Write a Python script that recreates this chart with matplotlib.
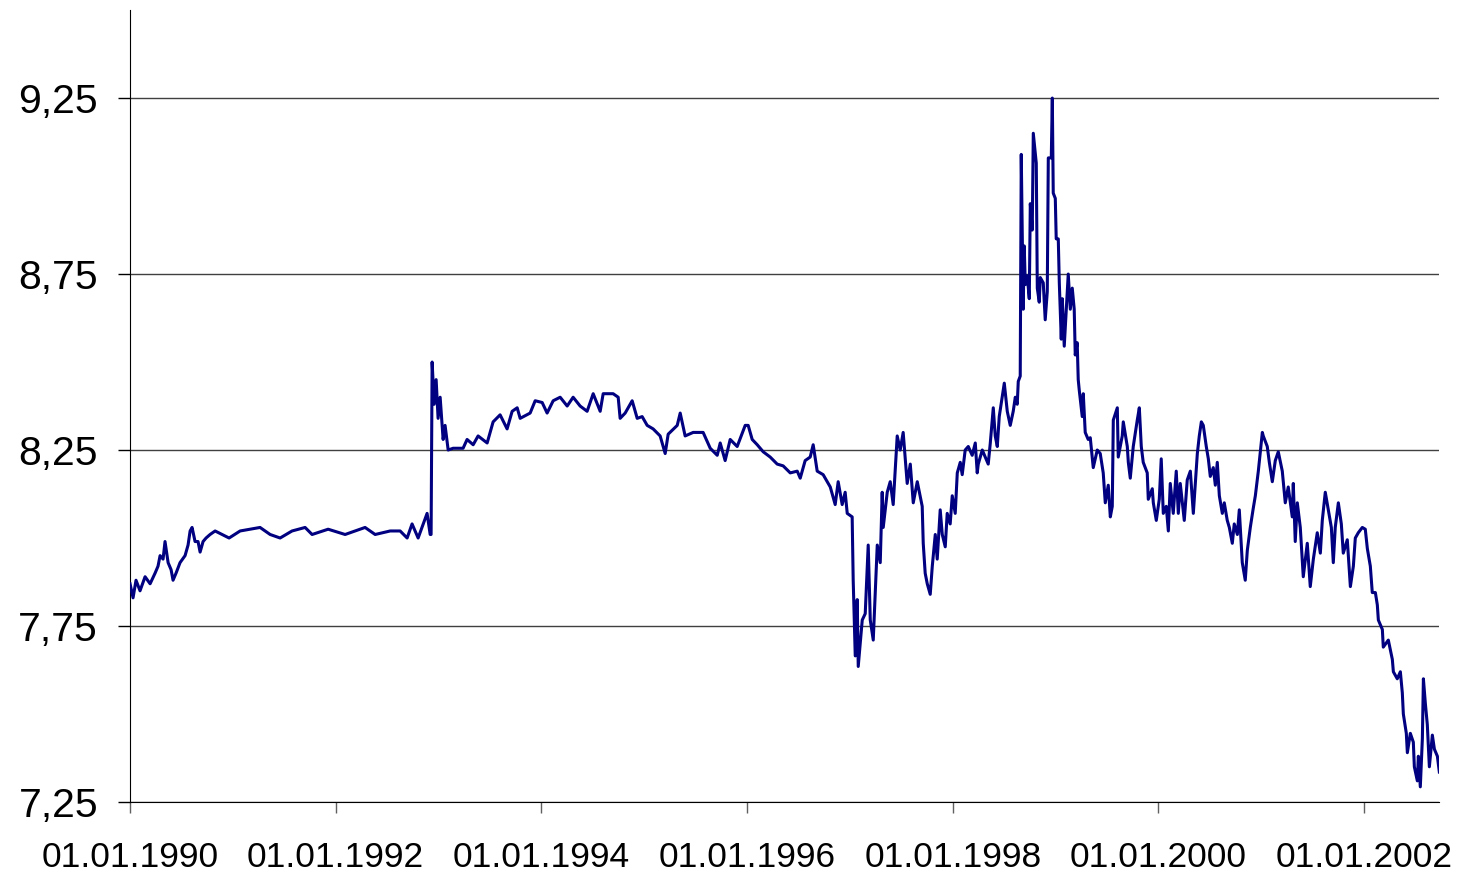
import numpy as np
import pandas as pd
import matplotlib
matplotlib.use("Agg")
import matplotlib.pyplot as plt
import matplotlib.dates as mdates

# time in decimal years
t_years = [
    1990.000, 1990.029, 1990.058, 1990.097, 1990.146, 1990.195, 1990.243, 1990.272,
    1990.292, 1990.321, 1990.340, 1990.370, 1990.399, 1990.418, 1990.447, 1990.486,
    1990.535, 1990.564, 1990.584, 1990.603, 1990.632, 1990.661, 1990.681, 1990.710,
    1990.739, 1990.778, 1990.827, 1990.963, 1991.070, 1991.264, 1991.362, 1991.459,
    1991.575, 1991.702, 1991.770, 1991.926, 1992.091, 1992.285, 1992.383, 1992.529,
    1992.626, 1992.694, 1992.742, 1992.801, 1992.888, 1992.918, 1992.927, 1992.937,
    1992.957, 1992.976, 1992.995, 1993.015, 1993.044, 1993.063, 1993.093, 1993.141,
    1993.238, 1993.277, 1993.336, 1993.384, 1993.472, 1993.501, 1993.530, 1993.598,
    1993.666, 1993.715, 1993.764, 1993.793, 1993.890, 1993.939, 1994.007, 1994.055,
    1994.114, 1994.182, 1994.250, 1994.308, 1994.376, 1994.444, 1994.503, 1994.571,
    1994.600, 1994.697, 1994.746, 1994.765, 1994.814, 1994.882, 1994.931, 1994.979,
    1995.028, 1995.086, 1995.154, 1995.203, 1995.232, 1995.320, 1995.349, 1995.397,
    1995.475, 1995.572, 1995.641, 1995.709, 1995.738, 1995.786, 1995.835, 1995.903,
    1995.981, 1996.010, 1996.049, 1996.098, 1996.156, 1996.224, 1996.292, 1996.350,
    1996.419, 1996.487, 1996.516, 1996.564, 1996.613, 1996.642, 1996.681, 1996.739,
    1996.808, 1996.856, 1996.885, 1996.924, 1996.953, 1996.973, 1997.021, 1997.031,
    1997.051, 1997.070, 1997.080, 1997.119, 1997.148, 1997.177, 1997.197, 1997.226,
    1997.265, 1997.294, 1997.313, 1997.323, 1997.362, 1997.391, 1997.420, 1997.459,
    1997.488, 1997.517, 1997.556, 1997.586, 1997.615, 1997.654, 1997.702, 1997.712,
    1997.731, 1997.751, 1997.780, 1997.800, 1997.829, 1997.848, 1997.877, 1997.897,
    1997.926, 1997.945, 1997.974, 1997.994, 1998.023, 1998.043, 1998.072, 1998.091,
    1998.120, 1998.150, 1998.188, 1998.218, 1998.237, 1998.247, 1998.286, 1998.315,
    1998.344, 1998.364, 1998.393, 1998.412, 1998.432, 1998.451, 1998.480, 1998.500,
    1998.529, 1998.558, 1998.587, 1998.607, 1998.626, 1998.636, 1998.655, 1998.665,
    1998.675, 1998.684, 1998.694, 1998.704, 1998.723, 1998.743, 1998.753, 1998.772,
    1998.782, 1998.811, 1998.821, 1998.840, 1998.850, 1998.879, 1998.898, 1998.918,
    1998.928, 1998.957, 1998.967, 1998.976, 1998.996, 1999.005, 1999.025, 1999.035,
    1999.054, 1999.064, 1999.083, 1999.103, 1999.122, 1999.142, 1999.161, 1999.180,
    1999.190, 1999.209, 1999.219, 1999.229, 1999.258, 1999.268, 1999.287, 1999.316,
    1999.336, 1999.365, 1999.404, 1999.433, 1999.462, 1999.482, 1999.511, 1999.531,
    1999.550, 1999.560, 1999.599, 1999.608, 1999.647, 1999.657, 1999.696, 1999.706,
    1999.725, 1999.754, 1999.793, 1999.813, 1999.832, 1999.851, 1999.890, 1999.900,
    1999.939, 1999.949, 1999.978, 2000.007, 2000.026, 2000.046, 2000.075, 2000.095,
    2000.114, 2000.143, 2000.172, 2000.192, 2000.211, 2000.250, 2000.279, 2000.309,
    2000.338, 2000.377, 2000.396, 2000.416, 2000.435, 2000.464, 2000.484, 2000.503,
    2000.532, 2000.552, 2000.571, 2000.591, 2000.620, 2000.639, 2000.668, 2000.688,
    2000.717, 2000.736, 2000.766, 2000.785, 2000.814, 2000.843, 2000.863, 2000.892,
    2000.921, 2000.941, 2000.970, 2001.009, 2001.018, 2001.057, 2001.077, 2001.106,
    2001.135, 2001.164, 2001.203, 2001.232, 2001.261, 2001.300, 2001.310, 2001.329,
    2001.349, 2001.378, 2001.397, 2001.407, 2001.446, 2001.475, 2001.505, 2001.543,
    2001.573, 2001.592, 2001.621, 2001.650, 2001.680, 2001.699, 2001.718, 2001.748,
    2001.777, 2001.796, 2001.835, 2001.865, 2001.894, 2001.913, 2001.942, 2001.981,
    2002.010, 2002.030, 2002.059, 2002.078, 2002.108, 2002.127, 2002.137, 2002.176,
    2002.185, 2002.234, 2002.273, 2002.283, 2002.321, 2002.351, 2002.370, 2002.380,
    2002.409, 2002.419, 2002.448, 2002.477, 2002.487, 2002.516, 2002.526, 2002.545,
    2002.565, 2002.575, 2002.594, 2002.613, 2002.633, 2002.662, 2002.682, 2002.711,
    2002.730,
]

rate = [
    7.87, 7.83, 7.88, 7.85, 7.89, 7.87, 7.90, 7.92,
    7.95, 7.94, 7.99, 7.93, 7.91, 7.88, 7.90, 7.93,
    7.95, 7.98, 8.02, 8.03, 7.99, 7.99, 7.96, 7.99,
    8.00, 8.01, 8.02, 8.00, 8.02, 8.03, 8.01, 8.00,
    8.02, 8.03, 8.01, 8.025, 8.01, 8.03, 8.01, 8.02,
    8.02, 8.00, 8.04, 8.00, 8.07, 8.01, 8.01, 8.50,
    8.38, 8.45, 8.34, 8.40, 8.28, 8.32, 8.25, 8.255,
    8.255, 8.28, 8.265, 8.29, 8.27, 8.30, 8.33, 8.35,
    8.31, 8.36, 8.37, 8.34, 8.355, 8.39, 8.385, 8.355,
    8.39, 8.40, 8.375, 8.40, 8.375, 8.36, 8.41, 8.36,
    8.41, 8.41, 8.40, 8.34, 8.355, 8.39, 8.34, 8.345,
    8.32, 8.31, 8.29, 8.24, 8.295, 8.32, 8.355, 8.29,
    8.30, 8.30, 8.255, 8.235, 8.27, 8.22, 8.28, 8.26,
    8.32, 8.32, 8.28, 8.265, 8.245, 8.23, 8.21, 8.205,
    8.185, 8.19, 8.17, 8.22, 8.23, 8.265, 8.19, 8.18,
    8.145, 8.095, 8.16, 8.095, 8.13, 8.07, 8.06, 7.88,
    7.665, 7.825, 7.635, 7.767, 7.785, 7.98, 7.767, 7.71,
    7.98, 7.93, 8.13, 8.03, 8.13, 8.16, 8.095, 8.29,
    8.25, 8.30, 8.155, 8.21, 8.10, 8.16, 8.09, 7.985,
    7.90, 7.87, 7.84, 7.92, 8.01, 7.94, 8.08, 8.01,
    7.975, 8.07, 8.04, 8.12, 8.07, 8.185, 8.215, 8.18,
    8.25, 8.26, 8.235, 8.27, 8.185, 8.21, 8.25, 8.23,
    8.21, 8.27, 8.37, 8.29, 8.26, 8.345, 8.40, 8.44,
    8.36, 8.32, 8.36, 8.40, 8.38, 8.445, 8.46, 9.09,
    8.85, 8.65, 8.83, 8.72, 8.745, 8.68, 8.95, 8.875,
    9.15, 9.065, 8.71, 8.67, 8.74, 8.725, 8.62, 8.70,
    9.08, 9.08, 9.25, 8.98, 8.965, 8.85, 8.85, 8.725,
    8.565, 8.68, 8.545, 8.65, 8.75, 8.65, 8.71, 8.65,
    8.52, 8.555, 8.45, 8.42, 8.345, 8.41, 8.30, 8.28,
    8.285, 8.20, 8.25, 8.24, 8.185, 8.10, 8.15, 8.06,
    8.09, 8.335, 8.37, 8.23, 8.29, 8.33, 8.26, 8.215,
    8.17, 8.26, 8.335, 8.37, 8.26, 8.215, 8.185, 8.11,
    8.14, 8.10, 8.05, 8.11, 8.225, 8.07, 8.09, 8.02,
    8.155, 8.07, 8.19, 8.07, 8.155, 8.05, 8.165, 8.19,
    8.07, 8.24, 8.29, 8.33, 8.32, 8.26, 8.225, 8.175,
    8.20, 8.15, 8.215, 8.12, 8.07, 8.10, 8.05, 8.03,
    7.985, 8.04, 8.01, 8.08, 7.93, 7.88, 7.965, 8.03,
    8.085, 8.12, 8.19, 8.30, 8.29, 8.26, 8.215, 8.16,
    8.22, 8.245, 8.19, 8.10, 8.145, 8.06, 8.155, 7.99,
    8.10, 8.03, 7.94, 7.89, 7.985, 7.862, 7.94, 8.015,
    7.957, 8.05, 8.13, 8.08, 8.03, 7.93, 8.03, 8.10,
    8.04, 7.957, 7.995, 7.862, 7.92, 8.00, 8.015, 8.03,
    8.025, 7.97, 7.92, 7.845, 7.845, 7.81, 7.767, 7.74,
    7.69, 7.71, 7.655, 7.62, 7.60, 7.62, 7.56, 7.50,
    7.445, 7.39, 7.445, 7.42, 7.35, 7.31, 7.38, 7.293,
    7.43, 7.60, 7.53, 7.47, 7.35, 7.44, 7.40, 7.38,
    7.335,
]

y_ticks = [7.25, 7.75, 8.25, 8.75, 9.25]
tick_years = [1990, 1992, 1994, 1996, 1998, 2000, 2002]

start = pd.Timestamp("1990-01-01")
dates = start + pd.to_timedelta((np.array(t_years) - 1990) * 365.25, unit="D")

fig = plt.figure(figsize=(14.58, 8.76), dpi=100)
ax = fig.add_axes([0.0892, 0.0845, 0.898, 0.904])

ax.plot(dates, rate, color="#000080", linewidth=2.2, zorder=3)

ax.set_ylim(7.25, 9.5)
ax.set_xlim(start, dates[-1])
ax.set_yticks(y_ticks)
ax.set_yticklabels([f"{v:.2f}".replace(".", ",") for v in y_ticks])
ax.set_xticks([pd.Timestamp(f"{y}-01-01") for y in tick_years])
ax.xaxis.set_major_formatter(mdates.DateFormatter("%d.%m.%Y"))

ax.yaxis.grid(True, color="#404040", linewidth=1.0)
ax.set_axisbelow(True)

for side in ["top", "right"]:
    ax.spines[side].set_visible(False)
ax.spines["left"].set_color("black")
ax.spines["bottom"].set_color("black")

ax.tick_params(axis="y", direction="out", length=9, width=1, pad=14, labelsize=29.5)
ax.tick_params(axis="x", direction="out", length=8, width=1, pad=20, labelsize=25.5,
               color="#606060")
for lab in ax.get_xticklabels() + ax.get_yticklabels():
    lab.set_fontfamily(["Liberation Sans", "DejaVu Sans"])

fig.savefig("out.png", dpi=100)
